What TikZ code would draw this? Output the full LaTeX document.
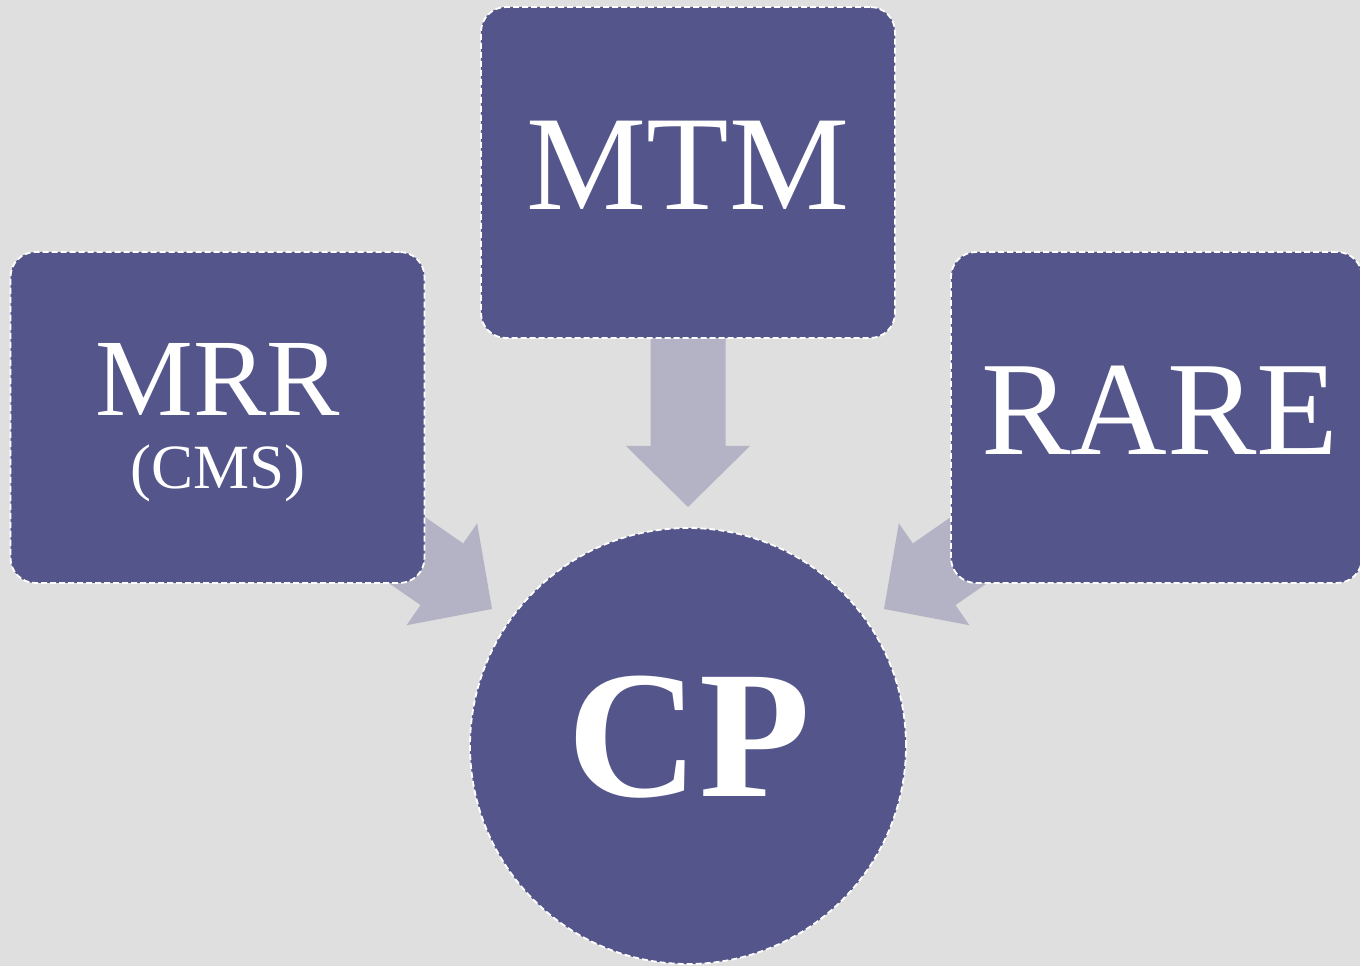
\documentclass[tikz,border=0pt]{standalone}
\usepackage{fontspec}
\setmainfont{Liberation Serif}
\definecolor{bgc}{HTML}{DFDFDF}
\definecolor{boxc}{HTML}{54558A}
\definecolor{arrc}{HTML}{B4B3C6}
\tikzset{
  box/.style={draw=white, fill=boxc, line width=1.8pt, dash pattern=on 6pt off 3pt,
    rounded corners=25pt, minimum width=414pt, minimum height=331pt, inner sep=0pt},
  circ/.style={circle, draw=white, fill=boxc, line width=1.8pt, dash pattern=on 6pt off 3pt,
    minimum size=436pt, inner sep=0pt},
  lbl/.style={text=white, inner sep=0pt, anchor=center}
}
\newcommand{\blkarrow}[3]{% tip x, tip y, angle
  \fill[arrc, shift={(#1,#2)}, rotate=#3]
    (0,0) -- (-61,62) -- (-61,37.5) -- (-181,37.5) -- (-181,-37.5) -- (-61,-37.5) -- (-61,-62) -- cycle;
}
\begin{document}
\begin{tikzpicture}[x=1pt,y=1pt]
\useasboundingbox (0,0) rectangle (1360,966);
\fill[bgc] (0,0) rectangle (1360,966);
% block arrows
\blkarrow{688}{459}{-90}
\blkarrow{492}{357}{-34.7}
\blkarrow{884}{357}{214.7}
% boxes
\node[box] (mtm) at (688,793.5) {};
\node[box] (mrr) at (217.5,548.5) {};
\node[box, minimum width=411pt] (rare) at (1156.5,548.5) {};
\node[circ] (cp) at (688,220) {};
% labels
\node[lbl] (mtmt) at (688,801) {\fontsize{135}{135}\selectfont MTM};
\node[lbl] (mrrt) at (218,587) {\fontsize{110}{110}\selectfont MRR};
\node[lbl] (cmst) at (218,493) {\fontsize{63}{63}\selectfont (CMS)};
\node[lbl] (raret) at (1160,555.5) {\fontsize{134}{134}\selectfont RARE};
\node[lbl] (cpt) at (689,229) {\fontsize{182}{182}\selectfont\bfseries CP};
\end{tikzpicture}
\end{document}
